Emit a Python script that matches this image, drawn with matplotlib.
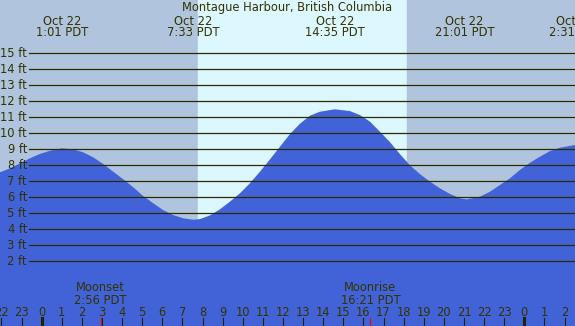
import numpy as np
import matplotlib.pyplot as plt
import matplotlib.transforms as mtransforms

# tide height (ft), hours from midnight Oct 22
hours = [-2.074, -1.576, -1.079, -0.582, -0.085, 0.413, 0.995, 1.571, 2.069,
         2.566, 3.063, 3.560, 4.058, 4.555, 5.052, 5.549, 6.047, 6.544,
         7.041, 7.55, 7.871, 8.369, 8.866, 9.363, 9.861, 10.358, 10.855,
         11.352, 11.850, 12.347, 12.844, 13.341, 13.839, 14.585, 15.330,
         15.828, 16.325, 16.822, 17.320, 17.817, 18.314, 18.811, 19.309,
         19.806, 20.303, 20.800, 21.133, 21.795, 22.292, 22.789, 23.287,
         23.784, 24.281, 24.778, 25.275, 25.773, 26.52]
heights = [7.56, 7.81, 8.12, 8.44, 8.71, 8.91, 9.06, 9.0, 8.81,
           8.5, 8.08, 7.6, 7.13, 6.63, 6.08, 5.63, 5.2, 4.89,
           4.69, 4.6, 4.64, 4.87, 5.25, 5.73, 6.25, 6.88, 7.6,
           8.37, 9.16, 9.95, 10.6, 11.1, 11.35, 11.5, 11.39,
           11.14, 10.73, 10.1, 9.45, 8.7, 8.0, 7.45, 6.98,
           6.56, 6.21, 5.94, 5.87, 6.04, 6.35, 6.77, 7.19,
           7.71, 8.16, 8.54, 8.89, 9.1, 9.27]

# high / low tide labels
tide_hours = [1.02, 7.55, 14.58, 21.02, 26.52]
tide_dates = ["Oct 22", "Oct 22", "Oct 22", "Oct 22", "Oct 22"]
tide_times = ["1:01 PDT", "7:33 PDT", "14:35 PDT", "21:01 PDT", "2:31 PDT"]

# moon events
moon_hours = [2.93, 16.35]
moon_names = ["Moonset", "Moonrise"]
moon_times = ["2:56 PDT", "16:21 PDT"]

sunrise = 7.77
sunset = 18.17

ft_levels = list(range(2, 16))
tick_hours = list(range(-2, 27))

title = "Montague Harbour, British Columbia"

night = "#b0c4de"
day = "#ddf7ff"
water = "#4263d8"
ink = "#333300"
fs = 8.3

W, H = 575, 326
fig = plt.figure(figsize=(W / 100, H / 100), dpi=100)
ax = fig.add_axes([0, 0, 1, 1])
xmin, xmax = -2.07, 26.52
ymin, ymax = -2.04, 18.33
ax.set_xlim(xmin, xmax)
ax.set_ylim(ymin, ymax)
ax.axis("off")

ax.axvspan(xmin, sunrise, color=night, zorder=0)
ax.axvspan(sunrise, sunset, color=day, zorder=0)
ax.axvspan(sunset, xmax, color=night, zorder=0)

ax.fill_between(hours, heights, ymin, color=water, lw=0, zorder=1)

# horizontal ft lines with labels
x_line0 = xmin + 29 / W * (xmax - xmin)
for lv in ft_levels:
    ax.plot([x_line0, xmax], [lv, lv], color="#2b2b00", lw=0.9, zorder=2)
    ax.text(x_line0 - 0.1, lv, f"{lv} ft", ha="right", va="center",
            fontsize=fs, color=ink, zorder=3)

trans = mtransforms.blended_transform_factory(ax.transData, ax.transAxes)

def fy(px):
    return 1 - px / H

ax.text(0.5, fy(11.3), title, transform=ax.transAxes, ha="center",
        va="baseline", fontsize=fs, color=ink)

for h, d, t in zip(tide_hours, tide_dates, tide_times):
    ax.text(h, fy(24.8), d, transform=trans, ha="center", va="baseline",
            fontsize=fs, color=ink)
    ax.text(h, fy(36.5), t, transform=trans, ha="center", va="baseline",
            fontsize=fs, color=ink)

for h, n, t in zip(moon_hours, moon_names, moon_times):
    ax.text(h, fy(291.3), n, transform=trans, ha="center", va="baseline",
            fontsize=fs, color=ink)
    ax.text(h, fy(303.7), t, transform=trans, ha="center", va="baseline",
            fontsize=fs, color=ink)
    ax.plot([h, h], [fy(318), 0], transform=trans, color="red", lw=0.8,
            zorder=3)

# hour ticks along the bottom
for h in tick_hours:
    ax.text(h, fy(315.7), str(h % 24), transform=trans, ha="center",
            va="baseline", fontsize=fs, color=ink)
    lw = 2.2 if h % 24 == 0 else 0.8
    ax.plot([h, h], [fy(318), 0], transform=trans, color="#222200", lw=lw,
            zorder=3)

fig.savefig("out.png", dpi=100)
